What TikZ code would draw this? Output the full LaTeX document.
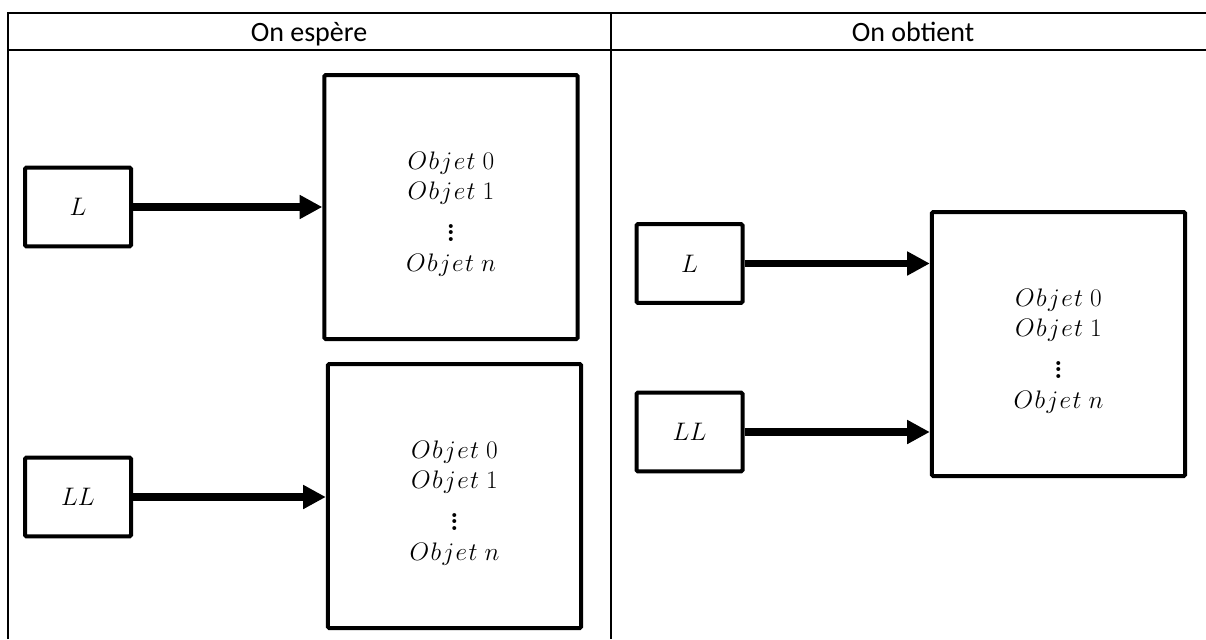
\RequirePackage{fix-cm}
\documentclass[tikz,border=0pt]{standalone}
\usepackage{fontspec}
\setmainfont{Carlito}
\usetikzlibrary{arrows.meta}
\newcommand\myvdots{\vbox{\baselineskip=0.24em\lineskiplimit=-10pt\hbox{\boldmath$.$}\hbox{\boldmath$.$}\hbox{\boldmath$.$}}}
\newcommand\objline[1]{$O\mkern1mu b\mkern1mu j\mkern1mu e\mkern1mu t\mkern5mu #1$}
\newcommand\objlist{\objline{0}\\ \objline{1}\\[8pt] \myvdots\\ \objline{n}}
\begin{document}
\begin{tikzpicture}[x=0.75pt,y=-0.75pt,
  tbl/.style={line width=1.5pt},
  hdr/.style={font=\fontsize{21}{25}\selectfont, inner sep=0, anchor=base},
  smallbox/.style={draw, line width=3pt, rounded corners=1pt, minimum width=79.5pt, minimum height=59pt, inner sep=0, font=\fontsize{19}{23}\selectfont},
  bigbox/.style={draw, line width=3pt, rounded corners=1pt, minimum width=190pt, minimum height=198pt, inner sep=0},
  objtext/.style={inner sep=0, align=center, font=\fontsize{19}{23}\selectfont},
  link/.style={line width=5.5pt, -{Triangle[length=17pt,width=17pt]}}]
\useasboundingbox (0,0) rectangle (1206,639);
% table
\coordinate (tl) at (8,13);
\coordinate (tr) at (1206,13);
\coordinate (hl) at (8,50);
\coordinate (hr) at (1206,50);
\coordinate (tm) at (611,13);
\coordinate (bl) at (8,639);
\coordinate (bm) at (611,639);
\draw[tbl] (bl) -- (tl) -- (tr);
\draw[tbl] (hl) -- (hr);
\draw[tbl] (tm) -- (bm);
\node[hdr] (h1) at (309,41) {On espère};
\node[hdr] (h2) at (913,41) {On obtient};
% left column
\node[smallbox] (L1) at (78,207) {$L$};
\node[bigbox] (B1) at (451,207) {};
\node[objtext] (T1) at ([yshift=-5.25pt]B1.center) {\objlist};
\node[smallbox] (LL1) at (78,497) {$LL$};
\node[bigbox] (B2) at (454.5,496) {};
\node[objtext] (T2) at ([yshift=-5.25pt]B2.center) {\objlist};
\draw[link] (L1.east) -- (L1.east -| B1.west);
\draw[link] (LL1.east) -- (LL1.east -| B2.west);
% right column
\node[smallbox] (L2) at (689.5,263.5) {$L$};
\node[smallbox] (LL2) at (689.5,432) {$LL$};
\node[bigbox] (B3) at (1058.5,344) {};
\node[objtext] (T3) at ([yshift=-5.25pt]B3.center) {\objlist};
\draw[link] (L2.east) -- (L2.east -| B3.west);
\draw[link] (LL2.east) -- (LL2.east -| B3.west);
\end{tikzpicture}
\end{document}
